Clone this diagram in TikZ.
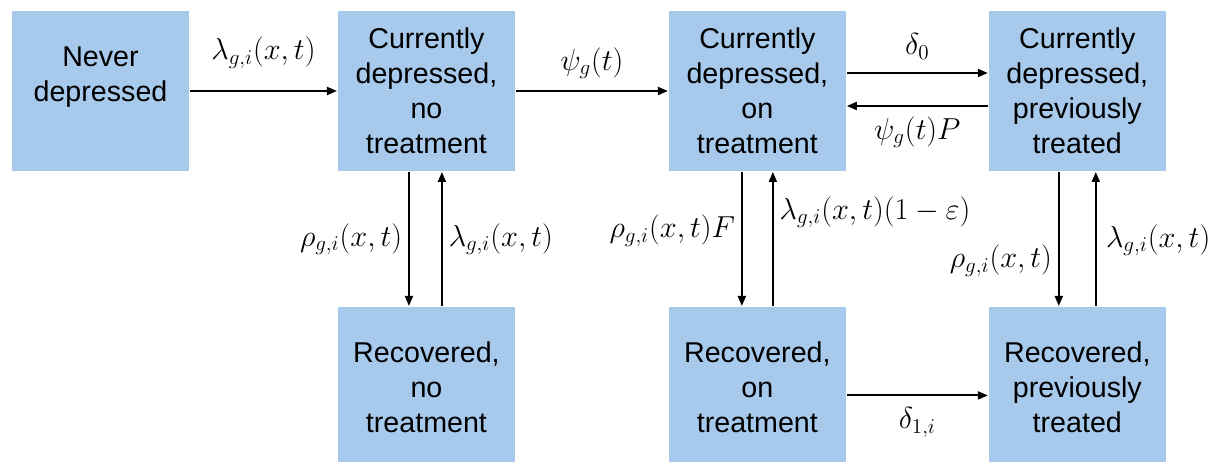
\documentclass[tikz,border=0pt]{standalone}
\usepackage{amsmath, amssymb}
\usepackage{fontspec}
\setmainfont{Liberation Sans}
\usetikzlibrary{positioning, arrows.meta}

\definecolor{boxblue}{RGB}{166,201,236}

\begin{document}
\begin{tikzpicture}[
    compartment/.style={rectangle, fill=boxblue, minimum width=3.54cm,
      minimum height=3.2cm, align=center, inner sep=2pt,
      font=\fontsize{16.3}{19.9}\selectfont},
    rate/.style={font=\fontsize{18}{20}\selectfont},
    >={Triangle[length=2mm, width=1.6mm]},
    line width=1.1pt
  ]

  \useasboundingbox (0,0) rectangle (24.3,9.24);

  \node[compartment] at (2.01,7.42)           (never) {Never\\depressed\\[-7pt]\strut};
  \node[compartment, right=2.94cm of never]  (cdnt)  {Currently\\depressed,\\no\\treatment};
  \node[compartment, right=3.04cm of cdnt]   (cdot)  {Currently\\depressed,\\on\\treatment};
  \node[compartment, right=2.82cm of cdot]   (cdpt)  {Currently\\depressed,\\previously\\treated};
  \node[compartment, below=2.68cm of cdnt]   (rnt)   {Recovered,\\no\\treatment};
  \node[compartment, below=2.68cm of cdot]   (rot)   {Recovered,\\on\\treatment};
  \node[compartment, below=2.68cm of cdpt]   (rpt)   {Recovered,\\previously\\treated};

  % top row
  \path[->] (never) edge node[rate, above=9pt] {$\lambda_{g,i}(x,t)$} (cdnt);
  \path[->] (cdnt)  edge node[rate, above=3pt] {$\psi_g(t)$} (cdot);
  \path[->] ([yshift=0.36cm]cdot.east) edge node[rate, above=4pt] {$\delta_0$} ([yshift=0.36cm]cdpt.west);
  \path[->] ([yshift=-0.3cm]cdpt.west) edge node[rate, below=2pt] {$\psi_g(t)P$} ([yshift=-0.3cm]cdot.east);

  % recovery (going down)
  \path[->] ([xshift=-0.35cm]cdnt.south) edge node[rate, left] {$\rho_{g,i}(x,t)$} ([xshift=-0.35cm]rnt.north);
  \path[->] ([xshift=-0.31cm]cdot.south) edge node[rate, left, pos=0.44] {$\rho_{g,i}(x,t)F$} ([xshift=-0.31cm]rot.north);
  \path[->] ([xshift=-0.37cm]cdpt.south) edge node[rate, left, pos=0.66] {$\rho_{g,i}(x,t)$} ([xshift=-0.37cm]rpt.north);

  % relapse (going up)
  \path[->] ([xshift=0.31cm]rnt.north) edge node[rate, right] {$\lambda_{g,i}(x,t)$} ([xshift=0.31cm]cdnt.south);
  \path[->] ([xshift=0.31cm]rot.north) edge node[rate, right, pos=0.7] {$\lambda_{g,i}(x,t)(1-\varepsilon)$} ([xshift=0.31cm]cdot.south);
  \path[->] ([xshift=0.37cm]rpt.north) edge node[rate, right=2pt, pos=0.49] {$\lambda_{g,i}(x,t)$} ([xshift=0.37cm]cdpt.south);

  % bottom row
  \path[->] ([yshift=-0.17cm]rot.east) edge node[rate, below=3pt] {$\delta_{1,i}$} ([yshift=-0.17cm]rpt.west);

\end{tikzpicture}
\end{document}
